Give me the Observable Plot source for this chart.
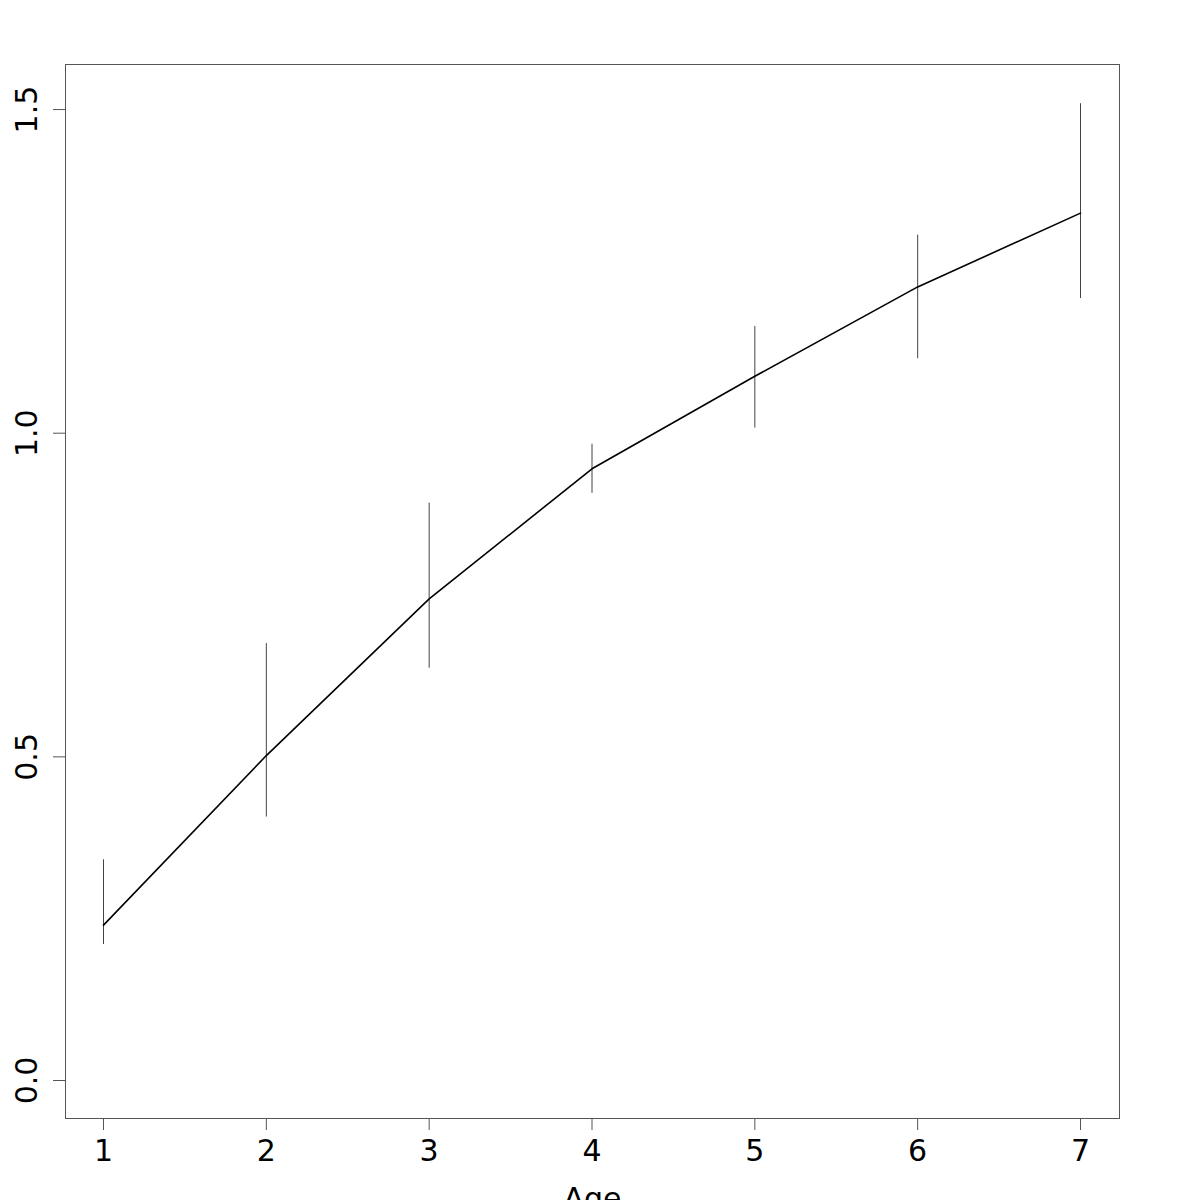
<!DOCTYPE html>
<html>
<head>
<meta charset="utf-8">
<script src="https://cdn.jsdelivr.net/npm/d3@7"></script>
<script src="https://cdn.jsdelivr.net/npm/@observablehq/plot@0.6"></script>
<style>
  html, body { margin: 0; padding: 0; background: white; }
</style>
</head>
<body>
<div id="chart"></div>
<script>
const age = [1, 2, 3, 4, 5, 6, 7];
const meanValue = [0.240, 0.502, 0.744, 0.945, 1.088, 1.226, 1.340];
const upperValue = [0.341, 0.675, 0.892, 0.983, 1.165, 1.306, 1.509];
const lowerValue = [0.210, 0.407, 0.637, 0.907, 1.008, 1.115, 1.208];
const xTicks = [1, 2, 3, 4, 5, 6, 7];
const yTicks = [0, 0.5, 1.0, 1.5];
const xLabel = "Age";

const data = age.map((a, i) => ({age: a, mean: meanValue[i], upper: upperValue[i], lower: lowerValue[i]}));

const chart = Plot.plot({
  width: 1200,
  height: 1200,
  marginLeft: 65,
  marginRight: 81,
  marginTop: 64,
  marginBottom: 82,
  style: {fontFamily: "DejaVu Sans", fontSize: "30px", background: "white", color: "black"},
  x: {domain: [0.7666, 7.2395]},
  y: {domain: [-0.0587, 1.5696]},
  marks: [
    Plot.frame({stroke: "#555", strokeWidth: 1}),
    Plot.ruleX(data, {x: "age", y1: "lower", y2: "upper", stroke: "#444", strokeWidth: 1}),
    Plot.line(data, {x: "age", y: "mean", stroke: "black", strokeWidth: 1.6}),
    Plot.axisX({ticks: xTicks, tickFormat: d => String(d), tickSize: 12, tickPadding: 9,
      stroke: "#555", fill: "black",
      label: xLabel, labelAnchor: "center", labelArrow: "none", labelOffset: 90}),
    Plot.axisY({ticks: yTicks, tickFormat: d => d.toFixed(1), tickRotate: -90, tickSize: 12, tickPadding: 17,
      stroke: "#555", fill: "black", label: null})
  ]
});
document.getElementById("chart").appendChild(chart);
</script>
</body>
</html>
